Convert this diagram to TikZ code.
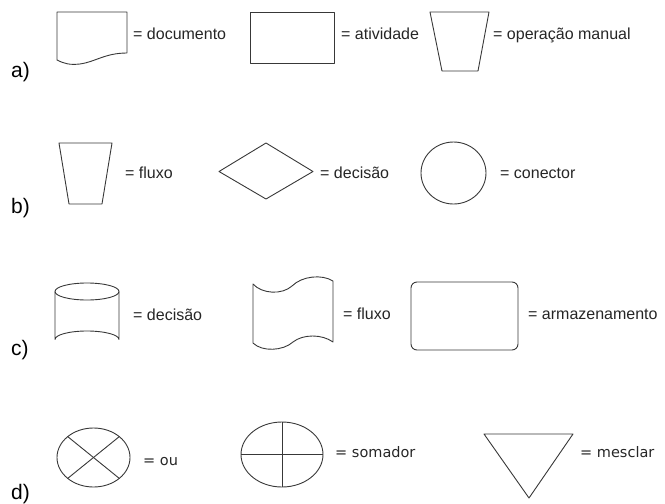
\documentclass[tikz,border=0pt]{standalone}
\usepackage{fontspec}
\setmainfont{Liberation Sans}
\newfontfamily\djfont{DejaVu Sans}
\begin{document}
\begin{tikzpicture}[x=1pt,y=-1pt,
  shp/.style={draw=black!78,line width=0.9pt,line join=round},
  lbl/.style={inner sep=0pt,anchor=base west,text=black!85,font=\fontsize{16}{19}\selectfont},
  lbld/.style={inner sep=0pt,anchor=base west,text=black!85,font=\djfont\fontsize{14.5}{17}\selectfont},
  row/.style={inner sep=0pt,anchor=base west,text=black,font=\fontsize{21}{24}\selectfont}]
\useasboundingbox (0,0) rectangle (665,504);
% row labels
\node[row] (ra) at (11,77) {a)};
\node[row] (rb) at (11,213) {b)};
\node[row] (rc) at (11,355) {c)};
\node[row] (rd) at (11,499) {d)};
% ---- row a
\draw[shp] (57,12) -- (57,60) .. controls (65,64) and (70,65) .. (80,64) .. controls (95,62) and (105,53) .. (127,53) -- (127,12) -- cycle;
\node[lbl] (ta1) at (133,39) {= documento};
\draw[shp] (250,12) rectangle (334,63);
\node[lbl] (ta2) at (341,39) {= atividade};
\draw[shp] (430,12) -- (489,12) -- (478,71) -- (442,71) -- cycle;
\node[lbl] (ta3) at (493,39) {= operação manual};
% ---- row b
\draw[shp] (59,143) -- (112,143) -- (102,204) -- (69,204) -- cycle;
\node[lbl] (tb1) at (125,178) {= fluxo};
\draw[shp] (219,171.5) -- (266,143) -- (313,171.5) -- (266,199) -- cycle;
\node[lbl] (tb2) at (320,178) {= decisão};
\draw[shp] (453.5,173) ellipse [x radius=32.5, y radius=31];
\node[lbl] (tb3) at (500,178) {= conector};
% ---- row c
\draw[shp] (87,291.5) ellipse [x radius=32, y radius=8.5];
\draw[shp] (55,291.5) -- (55,339.5) arc[start angle=180,end angle=360,x radius=32,y radius=8.5] -- (119,291.5);
\node[lbl] (tc1) at (133,320) {= decisão};
\draw[shp] (253,284) .. controls (262,294) and (282,295) .. (292,286) .. controls (302,276) and (322,274) .. (333,281)
  -- (333,342) .. controls (322,334) and (303,334) .. (293,342) .. controls (283,351) and (262,352) .. (253,343) -- cycle;
\node[lbl] (tc2) at (343,319) {= fluxo};
\draw[shp,rounded corners=6pt] (411,282) rectangle (518,350);
\node[lbl] (tc3) at (528,319) {= armazenamento};
% ---- row d
\draw[shp] (93.5,457.5) ellipse [x radius=36.5, y radius=29.5];
\draw[shp] (67.7,436.6) -- (119.3,478.4);
\draw[shp] (67.7,478.4) -- (119.3,436.6);
\node[lbld] (td1) at (143,465) {= ou};
\draw[shp] (282,454.5) ellipse [x radius=41, y radius=32.5];
\draw[shp] (241,454.5) -- (323,454.5);
\draw[shp] (282,422) -- (282,487);
\node[lbld] (td2) at (335,457) {= somador};
\draw[shp] (484,434) -- (573,434) -- (529,498) -- cycle;
\node[lbld] (td3) at (580,457) {= mesclar};
\end{tikzpicture}
\end{document}
